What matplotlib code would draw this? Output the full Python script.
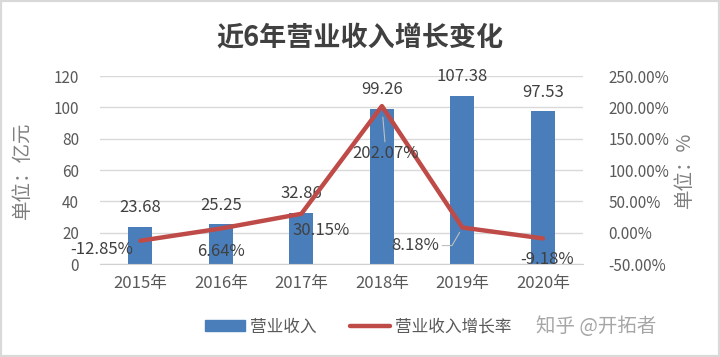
import numpy as np
import matplotlib
matplotlib.use('Agg')
import matplotlib.pyplot as plt
from matplotlib.patches import Patch, Rectangle
from matplotlib.lines import Line2D

plt.rcParams['font.family'] = ['Noto Sans CJK SC', 'DejaVu Sans']

years = ['2015年', '2016年', '2017年', '2018年', '2019年', '2020年']
revenue = [23.68, 25.25, 32.86, 99.26, 107.38, 97.53]
growth = [-0.1285, 0.0664, 0.3015, 2.0207, 0.0818, -0.0918]
left_ticks = [0, 20, 40, 60, 80, 100, 120]
right_ticks = [-0.5, 0, 0.5, 1.0, 1.5, 2.0, 2.5]

BLUE = '#4a7ebb'
RED = '#be4b48'
GRAY = '#595959'

fig = plt.figure(figsize=(7.2, 3.57), dpi=100)
ax = fig.add_axes([0.139, 0.2605, 0.671, 0.5265])
x = np.arange(len(years))

ax.bar(x, revenue, width=0.3, color=BLUE, zorder=2)
ax.set_ylim(0, 120)
ax.set_xlim(-0.5, len(years) - 0.5)
ax.set_yticks(left_ticks)
ax.set_xticks(x)
ax.set_xticklabels(years)
ax.grid(axis='y', color='#d9d9d9', linewidth=1, zorder=0)
ax.set_axisbelow(True)
for s in ['top', 'left', 'right']:
    ax.spines[s].set_visible(False)
ax.spines['bottom'].set_color('#d0d0d0')
ax.tick_params(axis='y', length=0, pad=15, labelsize=11, labelcolor=GRAY)
ax.tick_params(axis='x', length=0, pad=8, labelsize=12, labelcolor=GRAY)

# 柱子数值标签
for xi, v in zip(x, revenue):
    ax.annotate(f'{v:.2f}', xy=(xi, v), xytext=(0, 19), textcoords='offset pixels',
                ha='center', va='center', fontsize=12, color='#404040', zorder=5)

ax2 = ax.twinx()
ax2.plot(x, growth, color=RED, linewidth=3.2, solid_capstyle='round', zorder=3)
ax2.set_ylim(-0.5, 2.5)
ax2.set_yticks(right_ticks)
ax2.set_yticklabels([f'{t:.2%}' for t in right_ticks])
for s in ['top', 'left', 'right', 'bottom']:
    ax2.spines[s].set_visible(False)
ax2.tick_params(axis='y', length=0, pad=18, labelsize=11, labelcolor=GRAY)

# 增长率标签 (像素偏移)
offsets = [(-39, -9), (0, -23), (20, -17), (4, -47), (-47, -18), (4, -21)]
for xi, g, (dx, dy) in zip(x, growth, offsets):
    if dy < -40:
        arrow = dict(arrowstyle='-', color='#bfbfbf', lw=0.8, shrinkA=0, shrinkB=8)
    elif dx < -40:
        arrow = dict(arrowstyle='-', color='#bfbfbf', lw=0.8, shrinkA=0, shrinkB=4,
                     connectionstyle='angle,angleA=0,angleB=60')
    else:
        arrow = None
    ax2.annotate(f'{g:.2%}', xy=(xi, g), xytext=(dx, dy), textcoords='offset pixels',
                 ha='center', va='center', fontsize=12, color='#404040',
                 arrowprops=arrow, zorder=5)

fig.text(0.5, 1 - 38 / 357, '近6年营业收入增长变化', ha='center', va='center',
         fontsize=19.5, fontweight='bold', color='#404040')
fig.text(22 / 720, 1 - 170 / 357, '单位：亿元', rotation=90, ha='center', va='center',
         fontsize=14, color='#7f7f7f')
fig.text(684 / 720, 1 - 170 / 357, '单位：%', rotation=90, ha='center', va='center',
         fontsize=14, color='#7f7f7f')

handles = [Patch(facecolor=BLUE, edgecolor=BLUE),
           Line2D([0], [0], color=RED, linewidth=3.2, solid_capstyle='round')]
fig.legend(handles, ['营业收入', '营业收入增长率'], loc='center', ncol=2,
           bbox_to_anchor=(358 / 720, 1 - 327 / 357), frameon=False, fontsize=12,
           labelcolor=GRAY, handlelength=2.4, handleheight=0.6, columnspacing=2.0,
           handletextpad=0.3)
fig.text(596 / 720, 1 - 327 / 357, '知乎 @开拓者', ha='center', va='center',
         fontsize=14, color='#a6a6a6')

fig.patches.append(Rectangle((0, 0), 1, 1, transform=fig.transFigure, fill=False,
                             edgecolor='#d9d9d9', linewidth=3))

fig.savefig('out.png', dpi=100)
